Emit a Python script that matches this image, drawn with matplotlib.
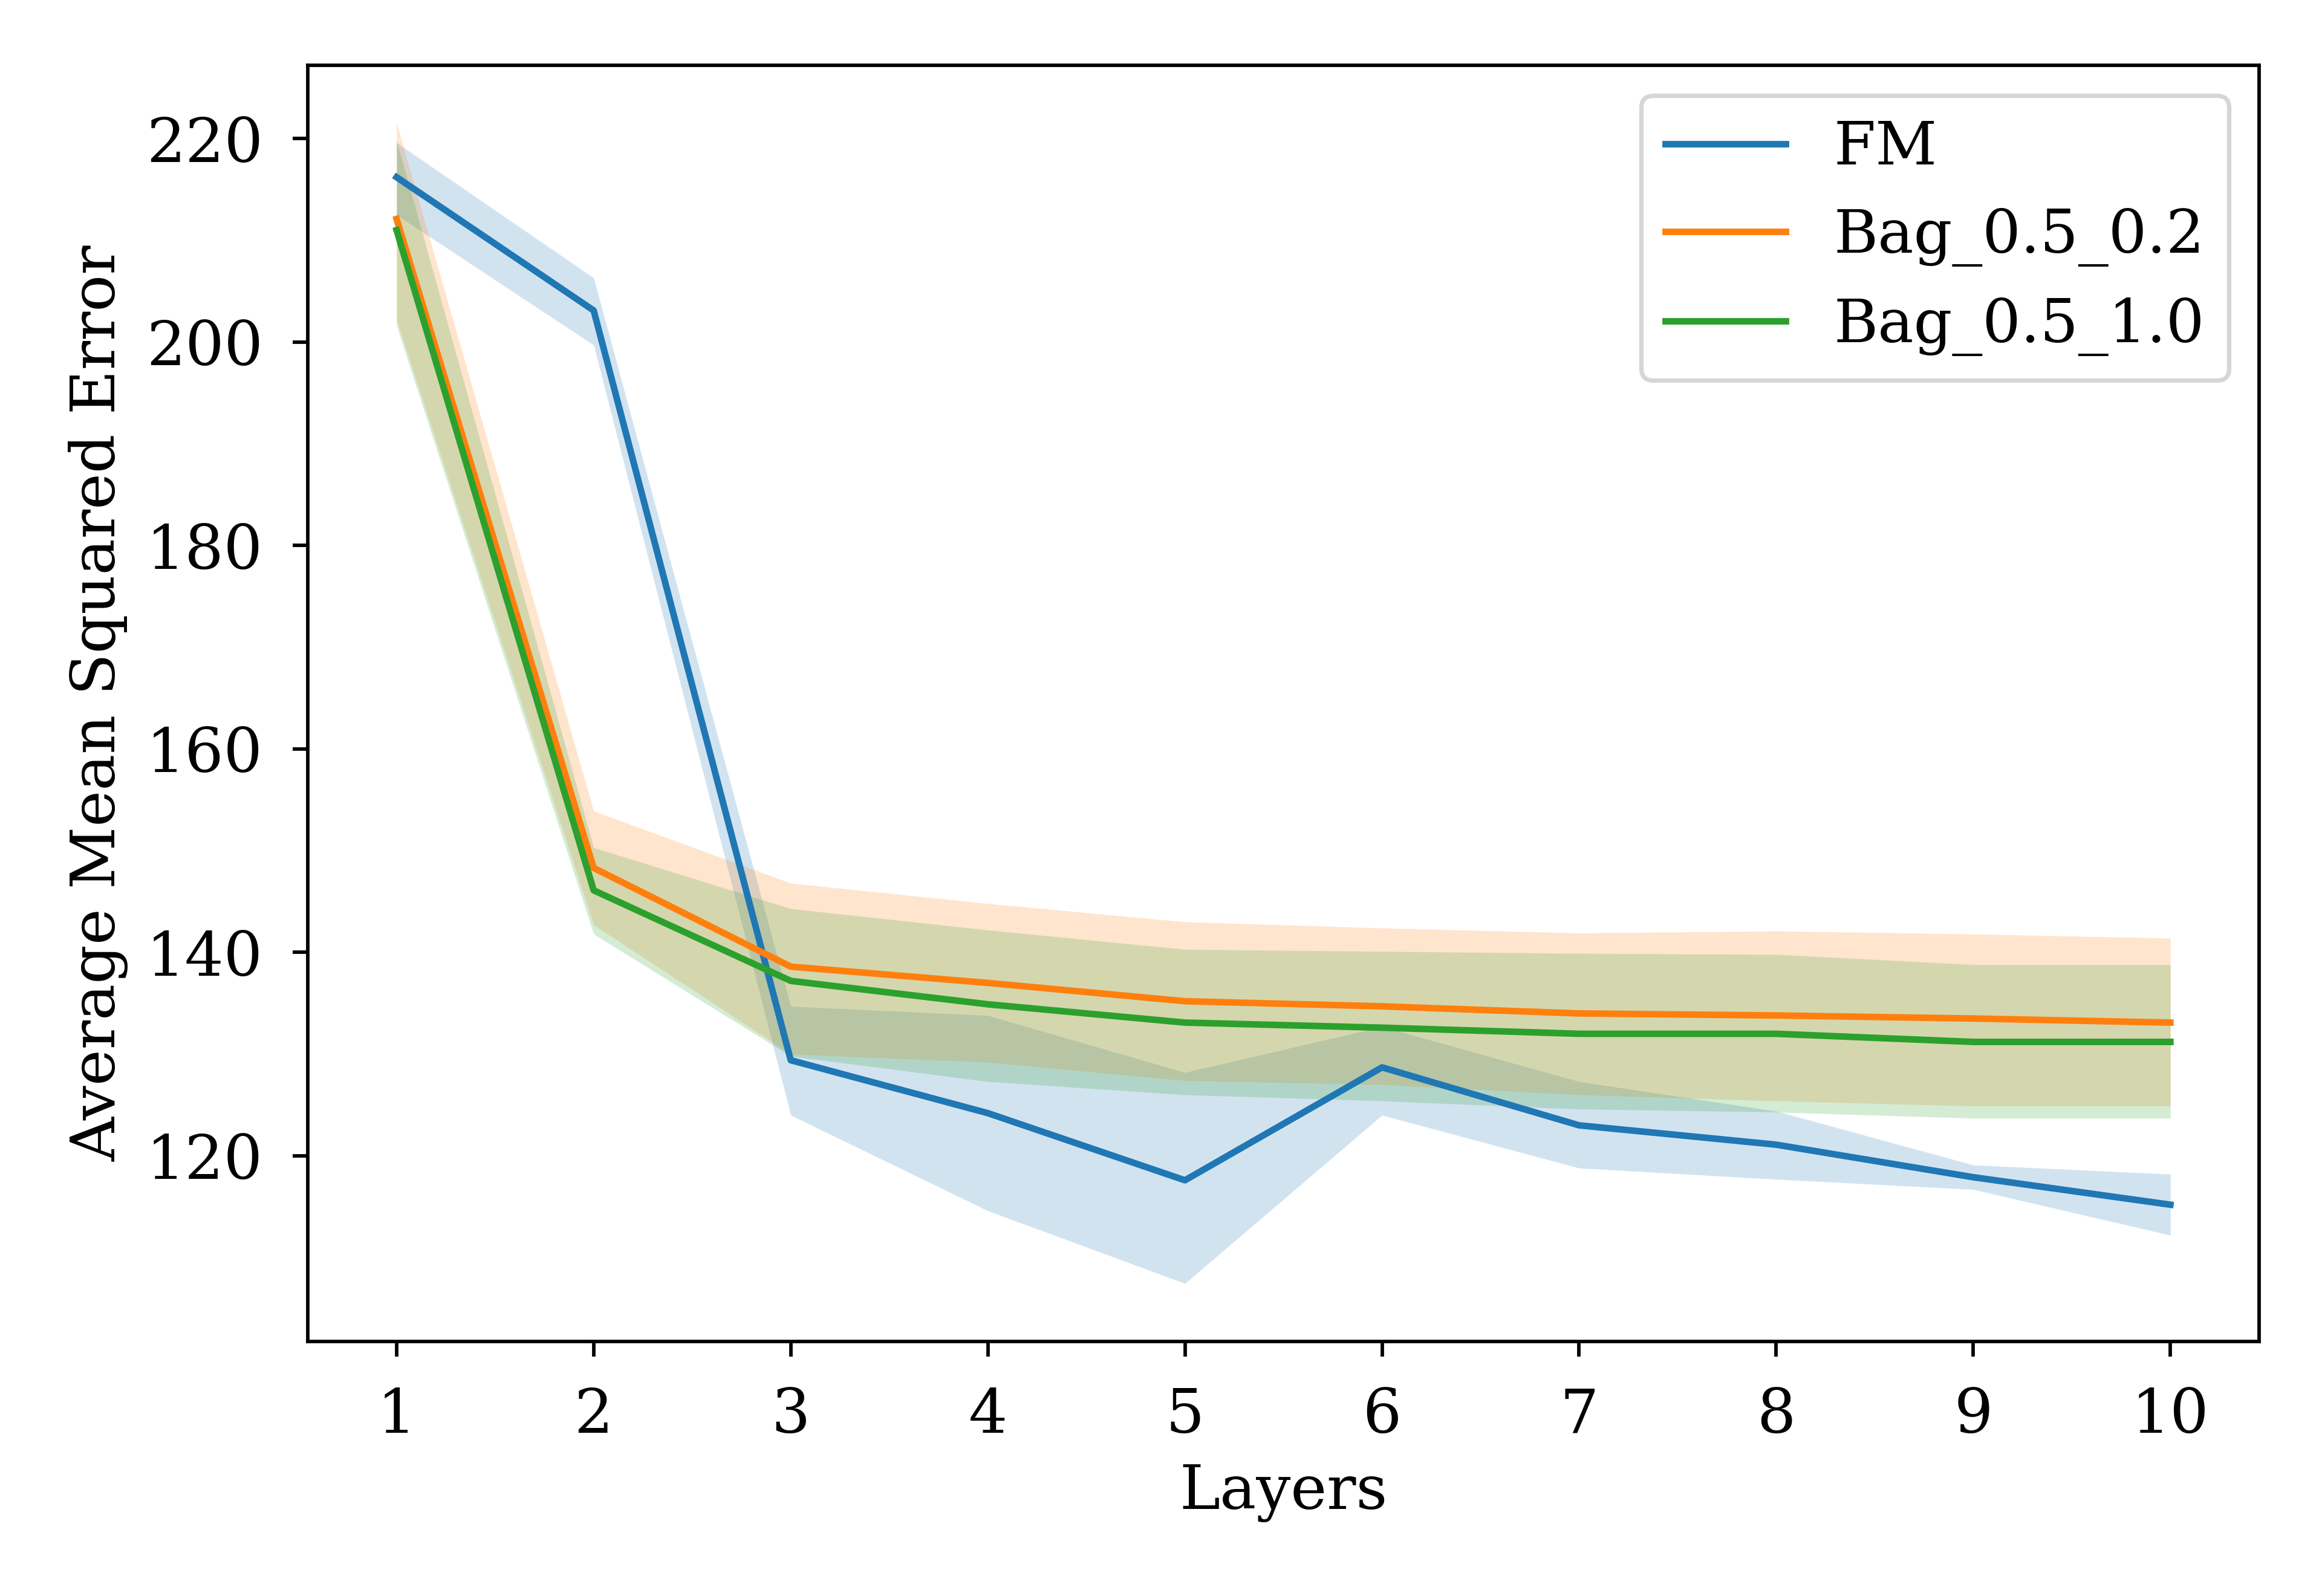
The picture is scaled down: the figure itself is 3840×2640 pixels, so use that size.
import matplotlib
matplotlib.use("Agg")
import matplotlib.pyplot as plt
import numpy as np

layers = [1, 2, 3, 4, 5, 6, 7, 8, 9, 10]

fm_mean = [216.2, 203.1, 129.4, 124.2, 117.6, 128.7, 123.0, 121.1, 117.9, 115.2]
fm_lower = [212.5, 199.7, 124.0, 114.6, 107.46, 124.0, 118.8, 117.7, 116.7, 112.2]
fm_upper = [219.6, 206.3, 134.7, 133.8, 128.2, 132.7, 127.3, 124.4, 119.1, 118.2]

bag02_mean = [212.1, 148.3, 138.6, 137.0, 135.2, 134.7, 134.0, 133.8, 133.5, 133.1]
bag02_lower = [202.2, 142.7, 130.0, 129.2, 127.4, 127.0, 126.0, 125.4, 124.9, 124.9]
bag02_upper = [221.5, 153.9, 146.8, 144.8, 143.0, 142.4, 141.9, 142.1, 141.8, 141.4]

bag10_mean = [211.0, 146.1, 137.2, 134.9, 133.1, 132.6, 132.0, 132.0, 131.2, 131.2]
bag10_lower = [201.6, 141.8, 129.8, 127.3, 126.0, 125.4, 124.6, 124.3, 123.7, 123.7]
bag10_upper = [219.8, 150.3, 144.3, 142.2, 140.3, 140.1, 139.9, 139.8, 138.8, 138.8]

labels = ["FM", "Bag_0.5_0.2", "Bag_0.5_1.0"]
colors = ["#1f77b4", "#ff7f0e", "#2ca02c"]

plt.rcParams["font.family"] = "serif"
plt.rcParams["font.size"] = 14

dpi = 520
fig = plt.figure(figsize=(3840 / dpi, 2640 / dpi), dpi=dpi)
ax = fig.add_axes([0.1326, 0.1595, 0.9729 - 0.1326, 0.9591 - 0.1595])

series = [
    (fm_mean, fm_lower, fm_upper),
    (bag02_mean, bag02_lower, bag02_upper),
    (bag10_mean, bag10_lower, bag10_upper),
]
for (m, lo, hi), lab, c in zip(series, labels, colors):
    ax.plot(layers, m, color=c, label=lab, lw=1.5)
    ax.fill_between(layers, lo, hi, color=c, alpha=0.2, lw=0)

ax.set_xticks(layers)
ax.tick_params(axis="both", pad=6.8)
ax.set_xlabel("Layers")
ax.set_ylabel("Average Mean Squared Error")
ax.legend(loc="upper right", fontsize=13.8)

fig.savefig("out.png", dpi=dpi)
